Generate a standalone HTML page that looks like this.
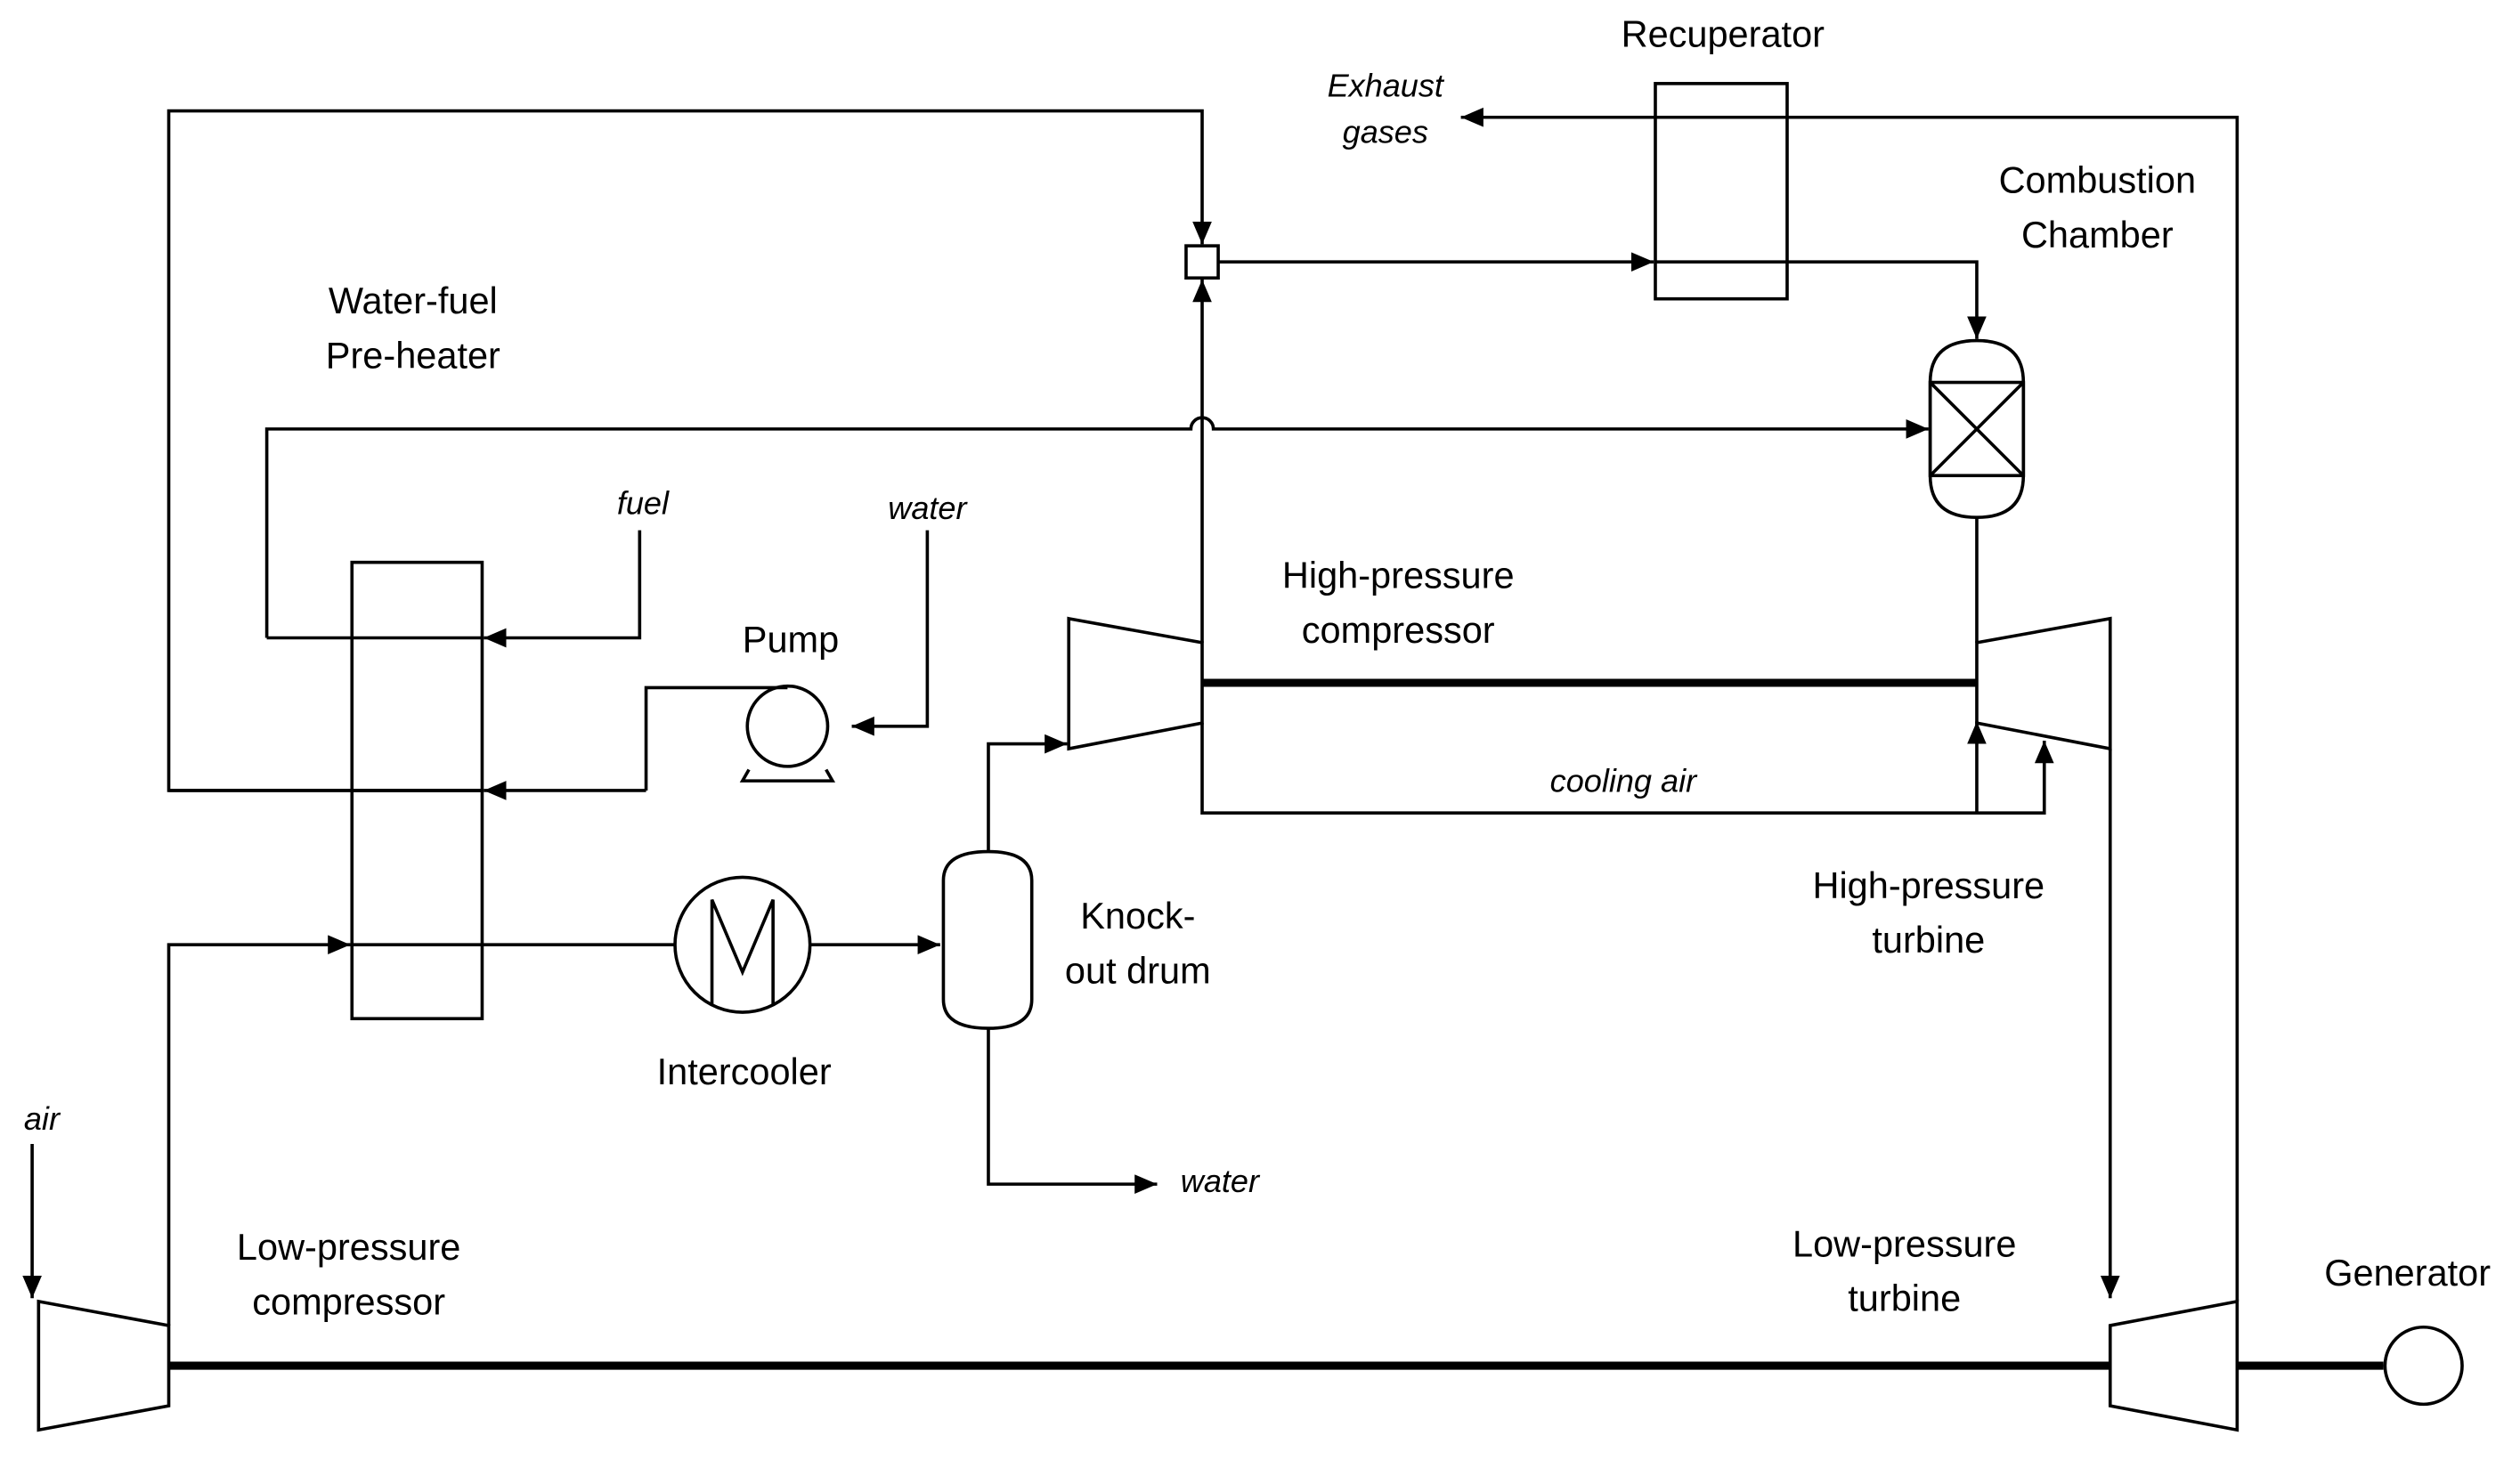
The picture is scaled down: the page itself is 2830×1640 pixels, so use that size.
<!DOCTYPE html>
<html><head><meta charset="utf-8"><style>
html,body{margin:0;padding:0;background:#fff;}
svg{display:block;}
text{font-family:"Liberation Sans",sans-serif;font-size:23px;fill:#000;}
.i{font-style:italic;font-size:20px;}
</style></head><body>
<svg width="2830" height="1640" viewBox="0 0 1568 908.7" preserveAspectRatio="none" xmlns="http://www.w3.org/2000/svg">
<defs><marker id="a" markerWidth="10" markerHeight="10" refX="9" refY="5" orient="auto" markerUnits="userSpaceOnUse"><path d="M0,0 L10,5 L0,10 z" fill="#000" transform="scale(1.4) translate(-3,-1.4)"/></marker>
<marker id="b" markerWidth="16" markerHeight="14" refX="14" refY="6" orient="auto" markerUnits="userSpaceOnUse"><path d="M0,0 L14,6 L0,12 z" fill="#000"/></marker></defs>
<g fill="none" stroke="#000" stroke-width="2">
<!-- top loop -->
<polyline points="300,492 105,492 105,69 748,69 748,152" marker-end="url(#b)" />
<polyline points="300,492 105,492" />
<rect x="738" y="153" width="20" height="20" fill="#fff"/>
<polyline points="748,400 748,174" marker-end="url(#b)"/>
<polyline points="758,163 1029,163" marker-end="url(#b)"/>
<!-- recuperator -->
<rect x="1030" y="52" width="82" height="134"/>
<line x1="1030" y1="73" x2="1112" y2="73"/>
<line x1="1030" y1="163" x2="1112" y2="163"/>
<polyline points="1392,810 1392,73 1112,73"/>
<polyline points="1030,73 909,73" marker-end="url(#b)"/>
<polyline points="1112,163 1230,163 1230,211" marker-end="url(#b)"/>
<!-- combustion chamber -->
<path d="M1201,238 Q1201,212 1230,212 Q1259,212 1259,238 L1259,296 Q1259,322 1230,322 Q1201,322 1201,296 Z"/>
<rect x="1201" y="238" width="58" height="58"/>
<line x1="1201" y1="238" x2="1259" y2="296"/><line x1="1259" y1="238" x2="1201" y2="296"/>
<line x1="1230" y1="322" x2="1230" y2="400"/>
<!-- fuel line y=267 with hop -->
<path d="M166,397 L166,267 L741,267 A7,7 0 0 1 755,267 L1200,267" marker-end="url(#b)"/>
<line x1="166" y1="397" x2="219" y2="397"/>
<!-- preheater -->
<rect x="219" y="350" width="81" height="284"/>
<line x1="219" y1="397" x2="300" y2="397"/>
<line x1="219" y1="492" x2="300" y2="492"/>
<line x1="219" y1="588" x2="300" y2="588"/>
<polyline points="398,330 398,397 301,397" marker-end="url(#b)"/>
<polyline points="402,492 301,492" marker-end="url(#b)"/>
<!-- pump -->
<polyline points="577,330 577,452 530,452" marker-end="url(#b)"/>
<circle cx="490" cy="452" r="25"/>
<polyline points="466,479 462,486 518,486 514,479"/>
<polyline points="490,428 402,428 402,492"/>
<!-- intercooler -->
<line x1="300" y1="588" x2="420" y2="588"/>
<circle cx="462" cy="588" r="42"/>
<polyline points="443,625 443,560 462,605 481,560 481,625"/>
<polyline points="504,588 585,588" marker-end="url(#b)"/>
<!-- knockout drum -->
<path d="M587,548 Q587,530 615,530 Q642,530 642,548 L642,622 Q642,640 615,640 Q587,640 587,622 Z"/>
<polyline points="615,530 615,463 664,463" marker-end="url(#b)"/>
<polyline points="615,640 615,737 720,737" marker-end="url(#b)"/>
<!-- air -->
<polyline points="105,825 105,588 218,588" marker-end="url(#b)"/>
<polyline points="20,712 20,808" marker-end="url(#b)"/>
<!-- compressors/turbines -->
<polygon points="24,810 105,825 105,875 24,890"/>
<polygon points="1313,825 1392,810 1392,890 1313,875"/>
<polygon points="665,385 748,400 748,450 665,466"/>
<polygon points="1230,400 1313,385 1313,466 1230,450"/>
<line x1="105" y1="850" x2="1313" y2="850" stroke-width="5"/>
<line x1="1392" y1="850" x2="1483" y2="850" stroke-width="5"/>
<circle cx="1508" cy="850" r="24"/>
<line x1="748" y1="425" x2="1230" y2="425" stroke-width="5"/>
<!-- cooling air -->
<polyline points="748,450 748,506 1272,506 1272,461" marker-end="url(#b)"/>
<polyline points="1230,506 1230,449" marker-end="url(#b)"/>
<polyline points="1313,466 1313,808" marker-end="url(#b)"/>
</g>
<text x="1072" y="29" text-anchor="middle">Recuperator</text>
<text class="i" x="862" y="60" text-anchor="middle">Exhaust</text>
<text class="i" x="862" y="89" text-anchor="middle">gases</text>
<text x="1305" y="120" text-anchor="middle">Combustion</text>
<text x="1305" y="154" text-anchor="middle">Chamber</text>
<text x="257" y="195" text-anchor="middle">Water-fuel</text>
<text x="257" y="229" text-anchor="middle">Pre-heater</text>
<text class="i" x="400" y="320" text-anchor="middle">fuel</text>
<text class="i" x="577" y="323" text-anchor="middle">water</text>
<text x="492" y="406" text-anchor="middle">Pump</text>
<text x="870" y="366" text-anchor="middle">High-pressure</text>
<text x="870" y="400" text-anchor="middle">compressor</text>
<text class="i" x="1010" y="493" text-anchor="middle">cooling air</text>
<text x="1200" y="559" text-anchor="middle">High-pressure</text>
<text x="1200" y="593" text-anchor="middle">turbine</text>
<text x="708" y="578" text-anchor="middle">Knock-</text>
<text x="708" y="612" text-anchor="middle">out drum</text>
<text x="463" y="675" text-anchor="middle">Intercooler</text>
<text class="i" x="759" y="742" text-anchor="middle">water</text>
<text class="i" x="26" y="703" text-anchor="middle">air</text>
<text x="217" y="784" text-anchor="middle">Low-pressure</text>
<text x="217" y="818" text-anchor="middle">compressor</text>
<text x="1185" y="782" text-anchor="middle">Low-pressure</text>
<text x="1185" y="816" text-anchor="middle">turbine</text>
<text x="1498" y="800" text-anchor="middle">Generator</text>
</svg>
</body></html>
